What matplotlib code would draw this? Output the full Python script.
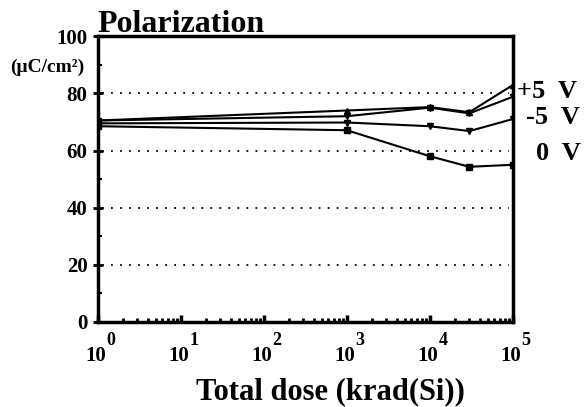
import numpy as np
import matplotlib.pyplot as plt
import matplotlib.transforms as mtrans
from matplotlib.ticker import FixedLocator, NullFormatter, LogLocator

plt.rcParams['font.family'] = 'Liberation Serif'
plt.rcParams['font.weight'] = 'bold'

# dose points (krad(Si))
dose = [1, 1e3, 1e4, 3e4, 1e5]

# polarization (uC/cm2)
pos5_a = [70.5, 74.0, 75.2, 73.4, 82.9]
pos5_b = [70.5, 72.0, 75.0, 73.0, 78.8]
neg5 = [69.5, 69.8, 68.5, 66.8, 71.0]
zero = [68.5, 67.1, 58.0, 54.3, 55.0]

ylabels = ['0', '20', '40', '60', '80', '100']
xdecades = [1, 10, 100, 1e3, 1e4, 1e5]
xexp = ['0', '1', '2', '3', '4', '5']

fig = plt.figure(figsize=(5.86, 4.07), dpi=100)
ax = fig.add_axes([0.167, 0.209, 0.708, 0.702])

ax.plot(dose, pos5_a, 'k-', lw=1.5, marker='^', ms=4.5)
ax.plot(dose, pos5_b, 'k-', lw=1.5, marker='v', ms=4.5)
ax.plot(dose, neg5, 'k-', lw=1.5, marker='v', ms=4.5)
ax.plot(dose, zero, 'k-', lw=1.5, marker='s', ms=4.5)

ax.set_xscale('log')
ax.set_xlim(1, 1e5)
ax.set_ylim(0, 100)

for v in [20, 40, 60, 80]:
    ax.axhline(v, color='k', ls=(0, (1, 4)), lw=1.3, xmin=0.01, xmax=0.99)

for s in ax.spines.values():
    s.set_linewidth(2.5)

ax.yaxis.set_major_locator(FixedLocator([0, 20, 40, 60, 80, 100]))
ax.yaxis.set_minor_locator(FixedLocator([10, 30, 50, 70, 90]))
ax.set_yticklabels(ylabels, fontsize=15)
ax.tick_params(axis='y', which='major', direction='inout', length=7, width=2, pad=4)
ax.tick_params(axis='y', which='minor', direction='in', length=3, width=1.5)

ax.xaxis.set_major_locator(FixedLocator(xdecades))
ax.xaxis.set_minor_locator(LogLocator(base=10, subs=np.arange(2, 10)))
ax.xaxis.set_major_formatter(NullFormatter())
ax.xaxis.set_minor_formatter(NullFormatter())
ax.tick_params(axis='x', which='major', direction='in', length=5, width=2.5)
ax.tick_params(axis='x', which='minor', direction='in', length=3, width=2)

# decade labels: "10" with raised exponent
tr = ax.get_xaxis_transform()
for d, e in zip(xdecades, xexp):
    t1 = mtrans.offset_copy(tr, fig=fig, x=-2.5, y=-34, units='dots')
    ax.text(d, 0, '10', transform=t1, ha='center', va='center', fontsize=15)
    t2 = mtrans.offset_copy(tr, fig=fig, x=13, y=-19, units='dots')
    ax.text(d, 0, e, transform=t2, ha='center', va='center', fontsize=13)

fig.text(330 / 586, 1 - 392 / 407, 'Total dose (krad(Si))', fontsize=22,
         fontweight='bold', ha='center', va='center')

fig.text(97 / 586, 1 - 32 / 407, 'Polarization', fontsize=23, fontweight='bold',
         ha='left', va='baseline')
fig.text(84 / 586, 1 - 67 / 407, '(μC/cm²)', fontsize=14, fontweight='bold',
         ha='right', va='center')

fig.text(517 / 586, 1 - 92 / 407, '+5  V', fontsize=19, fontweight='bold', va='center')
fig.text(526 / 586, 1 - 118 / 407, '-5  V', fontsize=19, fontweight='bold', va='center')
fig.text(536 / 586, 1 - 153 / 407, '0  V', fontsize=19, fontweight='bold', va='center')

fig.savefig('out.png', dpi=100)
